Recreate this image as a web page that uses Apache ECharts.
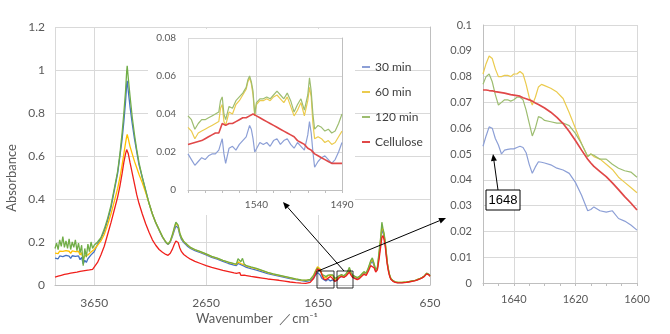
<!DOCTYPE html>
<html>
<head>
<meta charset="utf-8">
<script src="https://cdn.jsdelivr.net/npm/echarts@6/dist/echarts.min.js"></script>
<style>
  html, body { margin: 0; padding: 0; background: #fff; }
  #chart { width: 670px; height: 334px; }
</style>
</head>
<body>
<div id="chart"></div>
<script>
// ---- FT-IR absorbance spectra ----
const seriesNames = ['30 min', '60 min', '120 min', 'Cellulose'];

// Full spectrum, wavenumber in cm-1 (4000 -> 650)
const mainWavenumbers = [
  4000, 3986, 3972, 3958, 3944, 3930, 3916, 3902, 3888, 3874, 3860, 3846, 3832, 3818, 3804, 3790, 3776, 3762, 3748, 3734, 3720, 3706, 3692, 3678, 3664, 3650,
  3620, 3590, 3560, 3530, 3500, 3470, 3440, 3420, 3400, 3385, 3370, 3360, 3355, 3345, 3330, 3310, 3290, 3270, 3250, 3220, 3190, 3160, 3130, 3100, 3070, 3040, 3010, 2990, 2970, 2950, 2935, 2920, 2910, 2900, 2885, 2870, 2850, 2820, 2790, 2750, 2700, 2650,
  2600, 2550, 2500, 2450, 2400, 2380, 2365, 2350, 2340, 2325, 2310, 2290, 2250, 2200, 2150, 2100, 2050, 2000, 1950, 1900, 1850, 1800, 1760, 1720,
  1690, 1670, 1655, 1645, 1630, 1615, 1600, 1580, 1560, 1540, 1520, 1500, 1480, 1460, 1440, 1420, 1400, 1385, 1370, 1355, 1340, 1320, 1300, 1280, 1260, 1240, 1220, 1200, 1180, 1165, 1150, 1135, 1120, 1105, 1090, 1080, 1070, 1060, 1050, 1040, 1030, 1020, 1010, 1000, 980, 960, 940, 920, 900, 880, 860, 840, 820, 800, 780, 760, 740, 720, 700, 690, 680, 670, 660, 650
];
const main30 = [
  .125, .13, .122, .135, .128, .132, .126, .138, .13, .134, .124, .136, .129, .133, .127, .135, .118, .128, .098, .115, .105, .122, .13, .14, .145, .155,
  .19, .215, .25, .3, .36, .44, .52, .6, .68, .76, .85, .93, .95, .9, .83, .75, .68, .62, .56, .5, .44, .38, .33, .29, .255, .222, .198, .188, .2, .228, .252, .275, .28, .265, .232, .212, .197, .182, .17, .16, .15, .14,
  .128, .12, .11, .1, .093, .09, .1, .108, .095, .1, .088, .082, .076, .069, .061, .053, .047, .041, .036, .03, .025, .02, .017, .02,
  .032, .048, .058, .052, .046, .03, .021, .019, .027, .019, .024, .018, .025, .035, .04, .036, .045, .055, .07, .05, .04, .033, .028, .034, .045, .055, .05, .072, .1, .112, .09, .065, .075, .135, .2, .26, .245, .225, .19, .14, .095, .065, .042, .028, .018, .013, .011, .011, .011, .012, .013, .015, .017, .019, .021, .025, .029, .034, .041, .047, .053, .055, .048, .041
];
const main60 = [
  .148, .155, .146, .158, .15, .156, .149, .16, .152, .157, .147, .159, .151, .155, .148, .157, .14, .15, .12, .135, .128, .14, .148, .153, .158, .165,
  .185, .205, .235, .28, .33, .39, .45, .5, .56, .61, .66, .69, .7, .68, .645, .61, .575, .545, .515, .475, .43, .38, .33, .29, .257, .224, .2, .19, .203, .233, .262, .288, .293, .275, .24, .219, .202, .187, .174, .164, .154, .144,
  .132, .124, .114, .105, .098, .095, .108, .115, .1, .108, .094, .088, .082, .075, .067, .058, .051, .045, .039, .033, .027, .023, .021, .025,
  .045, .07, .085, .08, .074, .05, .035, .033, .044, .046, .045, .025, .033, .042, .046, .041, .05, .06, .076, .054, .044, .038, .033, .038, .049, .059, .054, .078, .107, .12, .097, .069, .079, .145, .215, .275, .255, .235, .197, .147, .098, .068, .044, .03, .019, .014, .012, .012, .012, .013, .014, .016, .018, .02, .022, .026, .03, .035, .042, .048, .054, .056, .049, .042
];
const main120 = [
  .17, .195, .165, .21, .18, .225, .175, .205, .17, .215, .165, .2, .175, .21, .16, .195, .15, .185, .09, .17, .13, .19, .155, .2, .17, .185,
  .2, .22, .26, .31, .37, .45, .53, .61, .71, .8, .9, .99, 1.02, .96, .88, .78, .7, .63, .57, .5, .44, .38, .33, .29, .258, .225, .2, .19, .205, .237, .266, .292, .298, .278, .242, .22, .203, .188, .175, .165, .155, .145,
  .133, .125, .115, .106, .099, .097, .122, .13, .108, .124, .098, .09, .084, .077, .068, .059, .052, .046, .04, .034, .028, .024, .022, .026,
  .044, .066, .08, .072, .063, .05, .041, .039, .046, .047, .047, .031, .036, .044, .048, .043, .053, .064, .082, .057, .046, .04, .035, .04, .051, .062, .056, .082, .113, .126, .1, .071, .082, .155, .225, .292, .262, .24, .2, .15, .1, .07, .045, .031, .02, .015, .013, .012, .012, .013, .014, .016, .018, .02, .022, .026, .03, .035, .043, .049, .055, .057, .05, .043
];
const mainCellulose = [
  .037, .04, .041, .044, .045, .047, .049, .05, .052, .053, .055, .056, .058, .059, .06, .062, .063, .064, .066, .066, .068, .069, .07, .071, .073, .076,
  .105, .14, .18, .235, .29, .35, .41, .46, .52, .57, .61, .63, .635, .61, .57, .52, .47, .42, .38, .33, .285, .245, .21, .185, .165, .152, .142, .138, .148, .168, .188, .205, .21, .198, .172, .155, .142, .13, .12, .11, .1, .09,
  .082, .075, .068, .062, .056, .054, .05, .058, .045, .05, .046, .044, .04, .036, .032, .028, .025, .022, .018, .014, .011, .009, .008, .012,
  .03, .055, .074, .073, .068, .047, .028, .024, .032, .04, .03, .017, .022, .035, .04, .035, .042, .05, .06, .045, .035, .03, .025, .03, .04, .05, .045, .065, .09, .095, .08, .06, .07, .12, .18, .22, .23, .21, .18, .13, .09, .06, .04, .027, .017, .012, .01, .01, .01, .011, .012, .014, .016, .018, .02, .024, .028, .033, .04, .046, .052, .054, .047, .04
];

// Detail 1580 -> 1490 cm-1
const insetWavenumbers = [1580, 1578, 1576, 1574, 1572, 1570, 1568, 1566, 1564, 1562, 1561, 1560, 1559, 1558, 1556, 1554, 1552, 1550, 1548, 1546, 1545, 1544, 1543, 1542, 1541, 1540, 1538, 1536, 1534, 1532, 1530, 1528, 1526, 1524, 1522, 1520, 1518, 1516, 1514, 1512, 1510, 1509, 1508, 1507, 1506, 1505, 1504, 1502, 1500, 1498, 1496, 1494, 1492, 1490];
const inset30 = [.019, .016, .013, .015, .017, .016, .018, .019, .019, .021, .024, .027, .019, .014, .022, .023, .021, .024, .026, .028, .031, .034, .032, .027, .020, .019, .025, .024, .025, .023, .026, .027, .024, .026, .027, .024, .022, .025, .023, .021, .029, .036, .030, .020, .012, .011, .015, .017, .018, .016, .014, .016, .020, .025];
const inset60 = [.033, .031, .027, .030, .031, .032, .033, .034, .035, .036, .043, .045, .036, .034, .041, .040, .045, .047, .050, .053, .057, .059, .056, .050, .039, .045, .047, .047, .048, .047, .049, .050, .048, .046, .049, .044, .039, .042, .046, .039, .047, .054, .049, .035, .027, .028, .028, .027, .025, .026, .024, .025, .028, .031];
const inset120 = [.039, .037, .032, .035, .037, .037, .038, .039, .040, .041, .047, .049, .040, .037, .044, .043, .047, .049, .051, .054, .058, .060, .057, .052, .040, .046, .048, .048, .049, .048, .050, .052, .050, .048, .051, .047, .041, .045, .048, .042, .050, .059, .052, .040, .032, .033, .034, .033, .031, .032, .030, .031, .035, .040];
const insetCellulose = [.024, .0245, .025, .0255, .026, .027, .028, .029, .030, .030, .031, .035, .034, .034, .035, .035, .036, .037, .038, .038, .039, .039, .040, .040, .040, .039, .038, .037, .036, .035, .034, .033, .032, .031, .030, .029, .028, .026, .025, .024, .022, .022, .021, .020, .019, .019, .018, .017, .016, .015, .014, .014, .014, .014];

// Detail 1650 -> 1600 cm-1
const zoomWavenumbers = [1650, 1649, 1648, 1647, 1646, 1645, 1644, 1643, 1642, 1641, 1640, 1639, 1638, 1637, 1636, 1635, 1634, 1633, 1632, 1631, 1630, 1628, 1626, 1624, 1622, 1620, 1618, 1616, 1615, 1614, 1612, 1610, 1608, 1606, 1604, 1602, 1600];
const zoom30 = [.053, .057, .0605, .060, .056, .0535, .050, .0515, .0518, .052, .052, .0525, .053, .0525, .0505, .046, .0425, .045, .047, .0468, .0465, .0458, .0445, .0438, .0425, .039, .034, .028, .0285, .0295, .028, .0275, .028, .025, .024, .0225, .0205];
const zoom60 = [.081, .085, .088, .087, .083, .080, .080, .0805, .0805, .080, .081, .081, .082, .081, .077, .072, .069, .072, .076, .077, .0765, .0755, .074, .0715, .066, .060, .054, .049, .050, .049, .048, .046, .044, .041, .039, .037, .035];
const zoom120 = [.077, .080, .081, .078, .073, .069, .070, .071, .071, .0705, .071, .072, .072, .071, .067, .062, .057, .060, .0645, .064, .063, .0625, .062, .062, .061, .058, .054, .049, .050, .0495, .048, .048, .046, .0445, .0435, .043, .041];
const zoomCellulose = [.0748, .0748, .0746, .0745, .0742, .074, .0738, .0736, .0733, .073, .0728, .0726, .0724, .0718, .0714, .071, .0705, .0698, .0692, .0685, .0678, .0662, .0642, .0618, .0587, .0552, .0515, .048, .0465, .0452, .0432, .0412, .0388, .0362, .0335, .031, .0283];

// ---- styling ----
const FONT = 'Lato, "Open Sans", sans-serif';
const LABEL = '#595959';
const AXIS = '#BFBFBF';
const GRID = '#D9D9D9';
const mainColors = ['#4472C4', '#FFC000', '#70AD47', '#F0201C'];
const detailColors = ['#8C9FD6', '#EBCB4E', '#9DBD70', '#E04848'];

const MAIN_SHIFT = 650;   // main axis runs 0..3350 so ticks land on 650, 1650, 2650, 3650
const INSET_SHIFT = 1490; // inset axis runs 0..90 so ticks land on 1490, 1540

function pairs(xs, ys, shift) {
  return xs.map((x, i) => [x - shift, ys[i]]);
}

const mainSets = [main30, main60, main120, mainCellulose];
const insetSets = [inset30, inset60, inset120, insetCellulose];
const zoomSets = [zoom30, zoom60, zoom120, zoomCellulose];

const series = [];
mainSets.forEach((ys, i) => series.push({
  name: seriesNames[i], type: 'line', xAxisIndex: 0, yAxisIndex: 0,
  data: pairs(mainWavenumbers, ys, MAIN_SHIFT), showSymbol: false, symbol: 'none',
  lineStyle: { color: mainColors[i], width: 1.3 }, itemStyle: { color: mainColors[i] }, z: 4
}));
insetSets.forEach((ys, i) => series.push({
  name: seriesNames[i], type: 'line', xAxisIndex: 1, yAxisIndex: 1,
  data: pairs(insetWavenumbers, ys, INSET_SHIFT), showSymbol: false, symbol: 'none',
  lineStyle: { color: detailColors[i], width: i === 3 ? 1.6 : 1.2 }, itemStyle: { color: detailColors[i] }, z: 6
}));
zoomSets.forEach((ys, i) => series.push({
  name: seriesNames[i], type: 'line', xAxisIndex: 2, yAxisIndex: 2,
  data: pairs(zoomWavenumbers, ys, 0), showSymbol: false, symbol: 'none',
  lineStyle: { color: detailColors[i], width: i === 3 ? 1.7 : 1.2 }, itemStyle: { color: detailColors[i] }, z: 6
}));

function labelStyle(size, margin) {
  return { color: LABEL, fontSize: size, fontFamily: FONT, margin: margin };
}

function arrow(x1, y1, x2, y2) {
  const a = Math.atan2(y2 - y1, x2 - x1), L = 7, W = 3;
  const bx = x2 - L * Math.cos(a), by = y2 - L * Math.sin(a);
  const px = -Math.sin(a) * W, py = Math.cos(a) * W;
  return [
    { type: 'line', silent: true, z: 20, shape: { x1: x1, y1: y1, x2: bx, y2: by }, style: { stroke: '#000', lineWidth: 1 } },
    { type: 'polygon', silent: true, z: 20, shape: { points: [[x2, y2], [bx + px, by + py], [bx - px, by - py]] }, style: { fill: '#000' } }
  ];
}

const graphics = [
  // white panel behind the 1580-1490 detail
  { type: 'rect', silent: true, z: 3, shape: { x: 148, y: 29, width: 207, height: 186 }, style: { fill: '#fff' } },
  { type: 'text', silent: true, z: 20, x: 12, y: 178, rotation: Math.PI / 2,
    style: { text: 'Absorbance', fill: LABEL, font: '13px ' + FONT, align: 'center', verticalAlign: 'middle' } },
  { type: 'text', silent: true, z: 20, x: 257, y: 319,
    style: { text: 'Wavenumber  ／cm⁻¹', fill: LABEL, font: '13px ' + FONT, align: 'center', verticalAlign: 'middle' } },
  // region boxes on the full spectrum
  { type: 'rect', silent: true, z: 20, shape: { x: 317, y: 271, width: 17, height: 17 }, style: { fill: 'none', stroke: '#000', lineWidth: 0.8 } },
  { type: 'rect', silent: true, z: 20, shape: { x: 337, y: 271, width: 16, height: 17 }, style: { fill: 'none', stroke: '#000', lineWidth: 0.8 } },
  ...arrow(344, 271, 283, 202),
  ...arrow(318, 271, 446, 218),
  // 1648 cm-1 callout
  { type: 'rect', silent: true, z: 20, shape: { x: 486, y: 190, width: 34, height: 20 }, style: { fill: '#fff', stroke: '#000', lineWidth: 1 } },
  { type: 'text', silent: true, z: 21, x: 503, y: 200,
    style: { text: '1648', fill: '#000', font: '13px "Liberation Sans", Arial, sans-serif', align: 'center', verticalAlign: 'middle' } },
  ...arrow(498, 190, 493, 154)
];

const option = {
  animation: false,
  backgroundColor: '#fff',
  legend: {
    orient: 'vertical', left: 357, top: 56, itemWidth: 8, itemHeight: 2, itemGap: 13, icon: 'rect',
    selectedMode: false, z: 8,
    textStyle: { fontSize: 12, color: '#404040', fontFamily: FONT },
    data: seriesNames.map((n, i) => ({ name: n, itemStyle: { color: detailColors[i] } }))
  },
  grid: [
    { left: 55, top: 27, width: 375, height: 258, containLabel: false },
    { left: 188, top: 38, width: 154, height: 152, containLabel: false, z: 5 },
    { left: 483, top: 25, width: 154, height: 258, containLabel: false }
  ],
  xAxis: [
    {
      gridIndex: 0, type: 'value', inverse: true, min: 0, max: 3350, interval: 1000,
      axisLine: { show: true, lineStyle: { color: AXIS } }, axisTick: { show: false },
      axisLabel: Object.assign(labelStyle(12, 12), { formatter: v => (v % 1000 === 0 ? String(v + MAIN_SHIFT) : '') }),
      splitLine: { show: true, lineStyle: { color: GRID, width: 1 } }
    },
    {
      gridIndex: 1, type: 'value', inverse: true, min: 0, max: 90, interval: 50, z: 5,
      axisLine: { show: true, lineStyle: { color: AXIS } },
      axisTick: { show: true, length: 3, lineStyle: { color: AXIS } },
      minorTick: { show: true, splitNumber: 5, length: 3, lineStyle: { color: AXIS } },
      axisLabel: Object.assign(labelStyle(10, 10), { formatter: v => (v % 50 === 0 ? String(v + INSET_SHIFT) : '') }),
      splitLine: { show: true, lineStyle: { color: GRID, width: 1 } }
    },
    {
      gridIndex: 2, type: 'value', inverse: true, min: 1600, max: 1650, interval: 20,
      axisLine: { show: true, lineStyle: { color: AXIS } },
      axisTick: { show: true, length: 3, lineStyle: { color: AXIS } },
      minorTick: { show: true, splitNumber: 4, length: 3, lineStyle: { color: AXIS } },
      axisLabel: Object.assign(labelStyle(11, 11), { formatter: v => (v % 20 === 0 ? String(v) : '') }),
      splitLine: { show: true, lineStyle: { color: GRID, width: 1 } }
    }
  ],
  yAxis: [
    {
      gridIndex: 0, type: 'value', min: 0, max: 1.2, interval: 0.2,
      axisLine: { show: true, lineStyle: { color: AXIS } }, axisTick: { show: false },
      axisLabel: labelStyle(12, 10),
      splitLine: { show: true, lineStyle: { color: GRID, width: 1 } }
    },
    {
      gridIndex: 1, type: 'value', min: 0, max: 0.08, interval: 0.02, z: 5,
      axisLine: { show: true, lineStyle: { color: AXIS } }, axisTick: { show: false },
      axisLabel: labelStyle(10, 12),
      splitLine: { show: true, lineStyle: { color: GRID, width: 1 } }
    },
    {
      gridIndex: 2, type: 'value', min: 0, max: 0.1, interval: 0.01,
      axisLine: { show: true, lineStyle: { color: AXIS } }, axisTick: { show: false },
      axisLabel: labelStyle(11, 11),
      splitLine: { show: true, lineStyle: { color: GRID, width: 1 } }
    }
  ],
  graphic: graphics,
  series: series
};

const chart = echarts.init(document.getElementById('chart'), null, { renderer: 'canvas' });
chart.setOption(option);
</script>
</body>
</html>
